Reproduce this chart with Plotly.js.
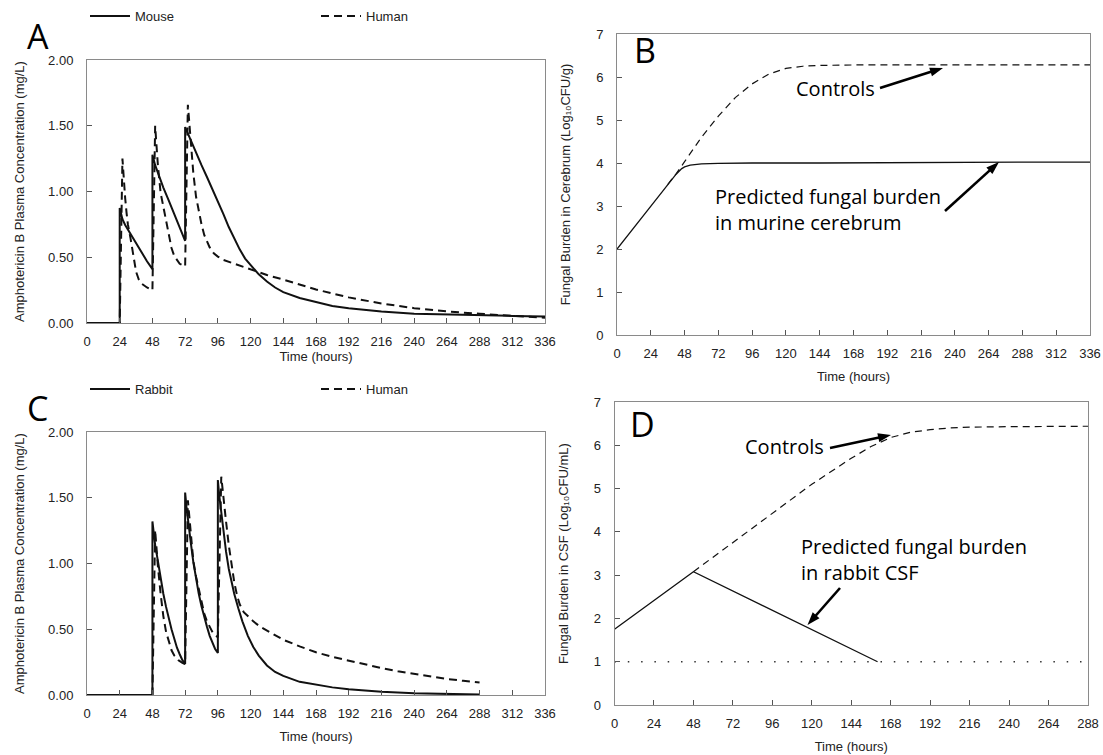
<!DOCTYPE html>
<html>
<head>
<meta charset="utf-8">
<script src="https://cdn.plot.ly/plotly-3.0.1.min.js"></script>
<style>html,body{margin:0;padding:0;background:#fff;}#chart{width:1103px;height:755px;}</style>
</head>
<body>
<div id="chart"></div>
<script>
// ---------- Panel A: plasma concentration, mouse vs human ----------
const hoursMouseA = [0,24,24,25,26,28,30,32,36,40,44,48,48,50,52,56,60,64,68,72,72,74,76,80,84,88,92,96,100,104,108,112,116,120,126,132,138,144,156,168,180,192,216,240,264,288,312,336];
const concMouseA  = [0,0,0.875,0.82,0.79,0.745,0.71,0.67,0.60,0.535,0.47,0.41,1.28,1.20,1.14,1.03,0.93,0.83,0.72,0.625,1.49,1.44,1.39,1.29,1.20,1.11,1.02,0.93,0.83,0.73,0.64,0.56,0.49,0.44,0.37,0.315,0.27,0.235,0.19,0.16,0.13,0.112,0.087,0.07,0.063,0.058,0.054,0.05];
const hoursHumanA = [0,24,26,27,28,29,30,32,33,34,35,36,38,40,44,48,50,51,52,54,56,58,60,62,64,66,68,70,72,74,75,76,78,80,82,84,86,88,90,93,96,100,104,110,116,122,132,144,156,168,192,216,240,264,288,312,336];
const concHumanA  = [0,0,1.25,1.08,0.95,0.84,0.75,0.64,0.58,0.50,0.44,0.39,0.33,0.30,0.27,0.25,1.50,1.35,1.20,0.99,0.88,0.76,0.65,0.57,0.51,0.475,0.45,0.44,0.43,1.66,1.52,1.42,1.14,0.96,0.84,0.75,0.67,0.62,0.575,0.53,0.505,0.48,0.465,0.445,0.425,0.40,0.365,0.33,0.29,0.255,0.195,0.148,0.113,0.088,0.07,0.055,0.04];

// ---------- Panel B: fungal burden in murine cerebrum ----------
const hoursTreatedB = [0,12,24,36,42,46,48,52,56,60,72,96,144,192,240,288,336];
const burdenTreatedB = [2.0,2.5,3.0,3.5,3.74,3.87,3.91,3.95,3.97,3.98,3.99,4.0,4.0,4.01,4.01,4.02,4.02];
const hoursControlB = [36,42,48,60,72,84,96,108,120,132,144,168,240,336];
const burdenControlB = [3.5,3.75,4.03,4.6,5.09,5.52,5.84,6.07,6.2,6.25,6.27,6.28,6.28,6.28];

// ---------- Panel C: plasma concentration, rabbit vs human ----------
const hoursRabbitC = [0,48,48,49,50,52,54,56,58,60,62,64,66,68,70,72,72,73,74,76,78,80,82,84,86,88,90,92,94,96,96,97,98,100,102,104,106,108,111,114,118,122,126,132,138,144,156,168,180,192,216,240,264,288];
const concRabbitC  = [0,0,1.32,1.22,1.14,1.02,0.88,0.77,0.67,0.58,0.50,0.43,0.36,0.31,0.265,0.235,1.54,1.43,1.33,1.17,1.01,0.88,0.77,0.675,0.59,0.52,0.45,0.40,0.35,0.32,1.635,1.52,1.43,1.24,1.09,0.96,0.86,0.77,0.66,0.56,0.45,0.365,0.30,0.225,0.175,0.145,0.10,0.078,0.058,0.044,0.025,0.013,0.007,0.003];
const hoursHumanC  = [0,48,50,51,52,54,56,58,60,62,64,67,70,72,74,75,76,78,80,82,84,86,88,90,92,94,96,98.5,100,102,104,106,108,110,112,115,118,122,127,132,138,144,156,168,180,192,204,216,228,240,252,264,276,288];
const concHumanC   = [0,0,1.255,1.10,0.98,0.77,0.60,0.48,0.40,0.34,0.30,0.265,0.245,0.235,1.48,1.35,1.22,1.02,0.90,0.80,0.70,0.62,0.56,0.52,0.48,0.455,0.44,1.66,1.50,1.32,1.14,0.99,0.86,0.76,0.69,0.63,0.60,0.56,0.52,0.49,0.455,0.42,0.37,0.325,0.29,0.26,0.23,0.205,0.18,0.16,0.14,0.122,0.108,0.095];

// ---------- Panel D: fungal burden in rabbit CSF ----------
const hoursTreatedD = [0,48,160];
const burdenTreatedD = [1.75,3.08,1.0];
const hoursControlD = [48,60,72,84,96,108,120,132,144,156,168,180,192,204,216,240,264,288];
const burdenControlD = [3.08,3.42,3.75,4.1,4.43,4.77,5.1,5.4,5.7,5.97,6.18,6.3,6.36,6.4,6.42,6.43,6.44,6.44];
const hoursLimitD = [0,285];
const burdenLimitD = [1,1];

// tick labels
const timeTicks336 = [0,24,48,72,96,120,144,168,192,216,240,264,288,312,336];
const timeTicks288 = [0,24,48,72,96,120,144,168,192,216,240,264,288];

const W = 1103, H = 755;
const px = v => v / W;
const py = v => 1 - v / H;
const AX = 'Liberation Sans, Arial, sans-serif';
const ANN = 'Open Sans, Noto Sans, sans-serif';

const traces = [
  {x: hoursMouseA, y: concMouseA, xaxis:'x', yaxis:'y', mode:'lines', name:'Mouse', legend:'legend',
   line:{color:'#111', width:2}},
  {x: hoursHumanA, y: concHumanA, xaxis:'x', yaxis:'y', mode:'lines', name:'Human', legend:'legend',
   line:{color:'#111', width:2, dash:'8px,5px'}},
  {x: hoursTreatedB, y: burdenTreatedB, xaxis:'x2', yaxis:'y2', mode:'lines', showlegend:false,
   line:{color:'#111', width:1.3}},
  {x: hoursControlB, y: burdenControlB, xaxis:'x2', yaxis:'y2', mode:'lines', showlegend:false,
   line:{color:'#111', width:1.2, dash:'7px,5px'}},
  {x: hoursRabbitC, y: concRabbitC, xaxis:'x3', yaxis:'y3', mode:'lines', name:'Rabbit', legend:'legend2',
   line:{color:'#111', width:2}},
  {x: hoursHumanC, y: concHumanC, xaxis:'x3', yaxis:'y3', mode:'lines', name:'Human', legend:'legend2',
   line:{color:'#111', width:2, dash:'8px,5px'}},
  {x: hoursTreatedD, y: burdenTreatedD, xaxis:'x4', yaxis:'y4', mode:'lines', showlegend:false,
   line:{color:'#111', width:1.3}},
  {x: hoursControlD, y: burdenControlD, xaxis:'x4', yaxis:'y4', mode:'lines', showlegend:false,
   line:{color:'#111', width:1.2, dash:'7px,5px'}},
  {x: hoursLimitD, y: burdenLimitD, xaxis:'x4', yaxis:'y4', mode:'lines', showlegend:false,
   line:{color:'#333', width:1.5, dash:'1.5px,11.8px'}}
];

function xAxis(domain, range, ticks, anchor, standoff){
  return {domain: domain, range: range, tickmode:'array', tickvals: ticks, ticktext: ticks.map(String),
    ticks:'inside', ticklen:5, tickcolor:'#555', showline:true, mirror:true, linecolor:'#8a8a8a', linewidth:1,
    showgrid:false, zeroline:false, anchor: anchor, ticklabelstandoff: 6,
    tickfont:{family:AX, size:13, color:'#222'},
    title:{text:'Time (hours)', standoff: standoff, font:{family:AX, size:13, color:'#222'}}};
}
function yAxis(domain, range, dtick, fmt, anchor, title, standoff){
  return {domain: domain, range: range, dtick: dtick, tick0:0, tickformat: fmt,
    ticks:'inside', ticklen:5, tickcolor:'#555', showline:true, mirror:true, linecolor:'#8a8a8a', linewidth:1,
    showgrid:false, zeroline:false, anchor: anchor, ticklabelstandoff: 10,
    tickfont:{family:AX, size:13, color:'#222'},
    title:{text:title, standoff: standoff, font:{family:AX, size:13, color:'#222'}}};
}

// annotation arrows (thick shaft + filled head), pixel positions of tail and tip
function arrow(x0, y0, x1, y1){
  const dx = x1 - x0, dy = y1 - y0, L = Math.hypot(dx, dy), ux = dx / L, uy = dy / L;
  const hl = 13, hw = 4.5, nx = -uy, ny = ux;
  const bx = x1 - ux * hl, by = y1 - uy * hl;
  return [
    {type:'line', xref:'paper', yref:'paper', x0:px(x0), y0:py(y0), x1:px(bx + ux * 2), y1:py(by + uy * 2),
     line:{color:'#000', width:2.6}},
    {type:'path', xref:'paper', yref:'paper',
     path:`M ${px(x1)},${py(y1)} L ${px(bx + nx * hw)},${py(by + ny * hw)} L ${px(bx - nx * hw)},${py(by - ny * hw)} Z`,
     fillcolor:'#000', line:{width:0}}
  ];
}

const legendBase = {xanchor:'left', yanchor:'middle', orientation:'h', bgcolor:'rgba(0,0,0,0)',
  font:{family:AX, size:13, color:'#222'}, itemwidth:40, entrywidth:176, entrywidthmode:'pixels'};

const layout = {
  width: W, height: H, margin:{l:0,r:0,t:0,b:0}, paper_bgcolor:'#fff', plot_bgcolor:'#fff',
  font:{family:AX, size:13, color:'#222'},
  xaxis:  xAxis([px(87), px(545)], [0,336], timeTicks336, 'y', 4),
  yaxis:  yAxis([py(323), py(60)], [0,2], 0.5, '.2f', 'x', 'Amphotericin B Plasma Concentration (mg/L)', 20),
  xaxis2: xAxis([px(617), px(1090)], [0,336], timeTicks336, 'y2', 12),
  yaxis2: yAxis([py(335), py(34)], [0,7], 1, 'd', 'x2', 'Fungal Burden in Cerebrum (Log\u2081\u2080CFU/g)', 22),
  xaxis3: xAxis([px(87), px(545)], [0,336], timeTicks336, 'y3', 12),
  yaxis3: yAxis([py(695), py(432)], [0,2], 0.5, '.2f', 'x3', 'Amphotericin B Plasma Concentration (mg/L)', 20),
  xaxis4: xAxis([px(614.5), px(1088)], [0,288], timeTicks288, 'y4', 12),
  yaxis4: yAxis([py(705), py(402)], [0,7], 1, 'd', 'x4', 'Fungal Burden in CSF (Log\u2081\u2080CFU/mL)', 22),
  legend:  Object.assign({x: px(85), y: py(16)}, legendBase),
  legend2: Object.assign({x: px(85), y: py(389)}, legendBase),
  shapes: [].concat(
    arrow(880, 88, 943, 68),
    arrow(945, 211, 999, 162),
    arrow(830, 448, 891, 435),
    arrow(840, 588, 807.5, 625)
  ),
  annotations: [
    {text:'A', x:px(37.5), y:py(36), xref:'paper', yref:'paper', showarrow:false, xanchor:'center', yanchor:'middle', font:{family:ANN, size:34, color:'#000'}},
    {text:'B', x:px(644.5), y:py(50), xref:'paper', yref:'paper', showarrow:false, xanchor:'center', yanchor:'middle', font:{family:ANN, size:34, color:'#000'}},
    {text:'C', x:px(37.5), y:py(408), xref:'paper', yref:'paper', showarrow:false, xanchor:'center', yanchor:'middle', font:{family:ANN, size:34, color:'#000'}},
    {text:'D', x:px(642.7), y:py(424), xref:'paper', yref:'paper', showarrow:false, xanchor:'center', yanchor:'middle', font:{family:ANN, size:34, color:'#000'}},
    {text:'Controls', x:px(835), y:py(88), xref:'paper', yref:'paper', showarrow:false, xanchor:'center', yanchor:'middle', font:{family:ANN, size:20, color:'#000'}},
    {text:'Predicted fungal burden<br>in murine cerebrum', x:px(713), y:py(210), xref:'paper', yref:'paper', showarrow:false, xanchor:'left', yanchor:'middle', align:'left', font:{family:ANN, size:20, color:'#000'}},
    {text:'Controls', x:px(784.6), y:py(446.7), xref:'paper', yref:'paper', showarrow:false, xanchor:'center', yanchor:'middle', font:{family:ANN, size:20, color:'#000'}},
    {text:'Predicted fungal burden<br>in rabbit CSF', x:px(799.4), y:py(559), xref:'paper', yref:'paper', showarrow:false, xanchor:'left', yanchor:'middle', align:'left', font:{family:ANN, size:20, color:'#000'}}
  ]
};

Plotly.newPlot('chart', traces, layout, {displayModeBar:false, staticPlot:true});
</script>
</body>
</html>
